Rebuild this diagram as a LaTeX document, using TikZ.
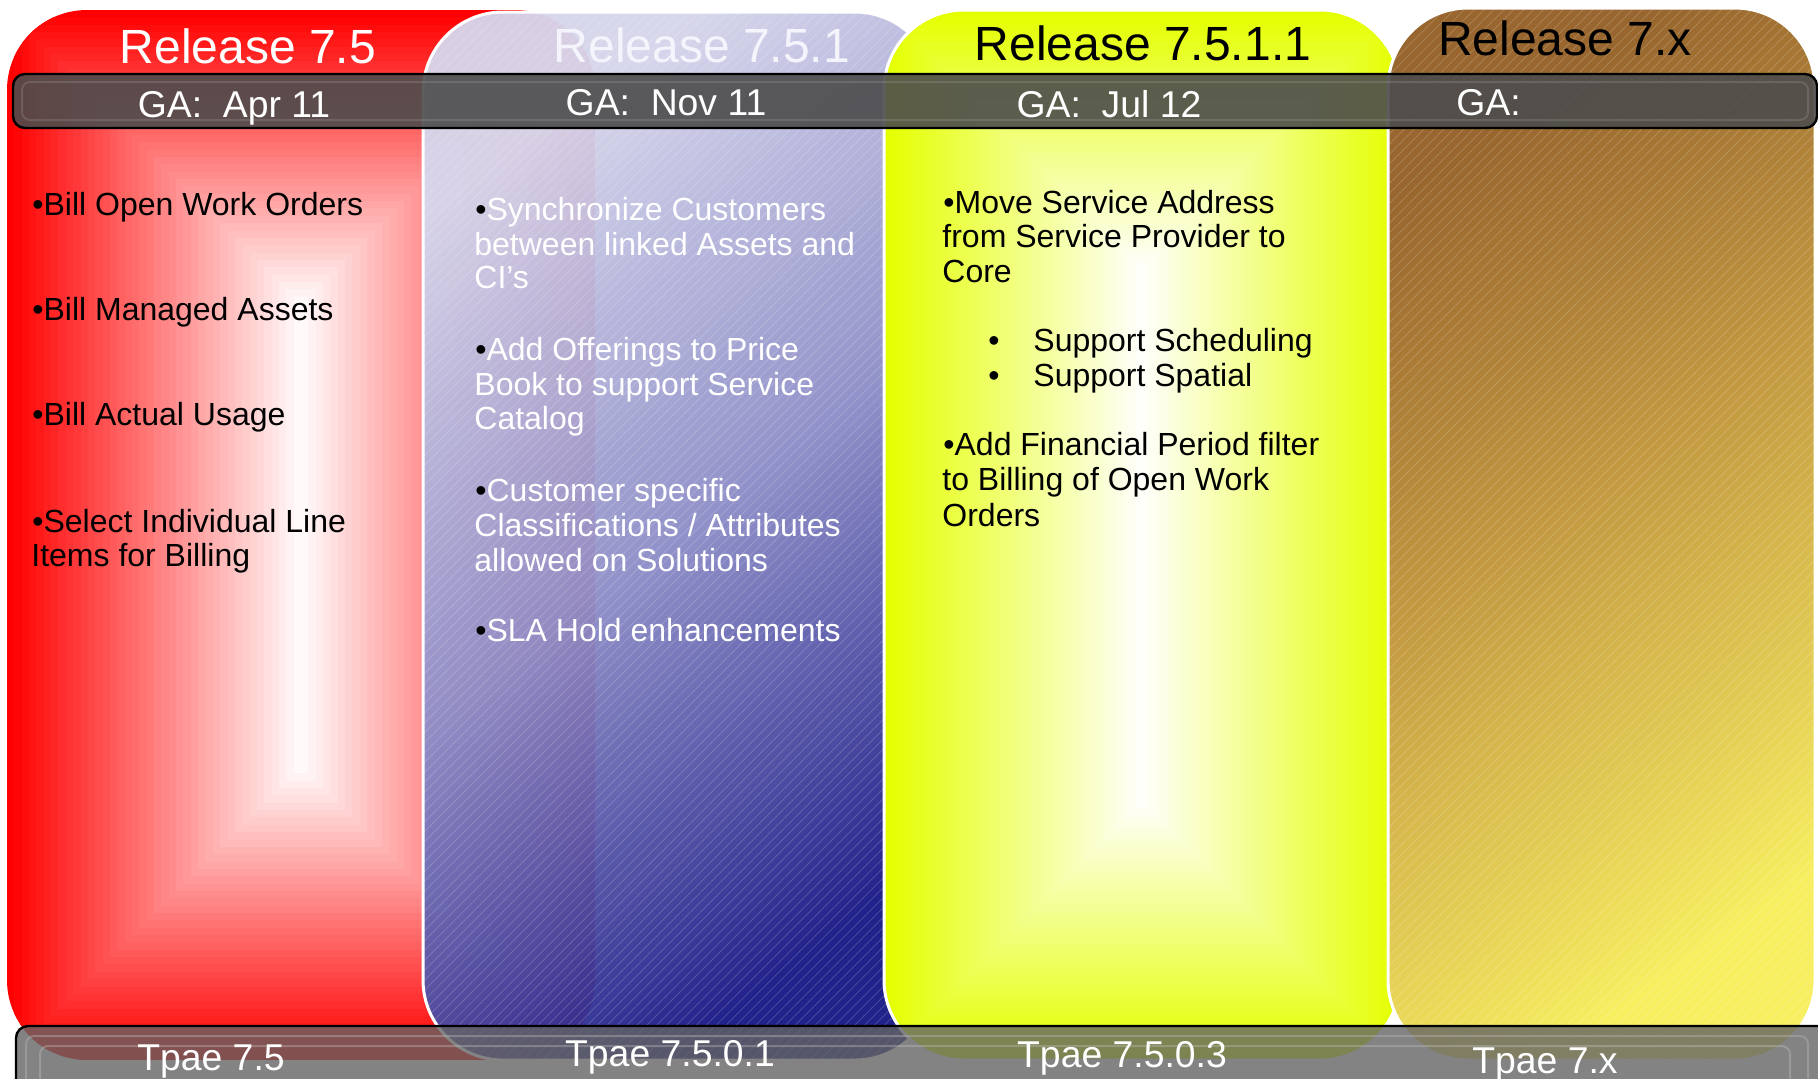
\documentclass[tikz,border=0pt]{standalone}
\usepackage{fontspec}
\setmainfont{Liberation Sans}
\usetikzlibrary{patterns.meta}
\definecolor{redc}{RGB}{255,0,0}
\definecolor{yelc}{RGB}{228,255,0}
\definecolor{bluetop}{RGB}{214,214,236}
\definecolor{bluemid}{RGB}{142,142,200}
\definecolor{bluebot}{RGB}{26,26,135}
\definecolor{bluetitle}{RGB}{244,244,252}
\definecolor{browntop}{RGB}{152,102,46}
\definecolor{brownmid}{RGB}{200,160,68}
\definecolor{brownbot}{RGB}{247,238,96}
\definecolor{gabarc}{RGB}{76,76,76}
\definecolor{tpbarc}{RGB}{100,100,100}
\tikzset{
  paneledge/.style={draw=white, line width=1.5pt, rounded corners=40pt},
  hatch/.style={pattern={Lines[angle=45,distance=3.5pt,line width=0.35pt]}, pattern color=white, opacity=0.2},
  reltitle/.style={font=\fontsize{24}{28}\selectfont, anchor=base, inner sep=0pt},
  barlabel/.style={font=\fontsize{18.67}{22}\selectfont, text=white, anchor=base, inner sep=0pt},
  item/.style={font=\fontsize{16}{19}\selectfont, anchor=base west, inner sep=0pt},
  witem/.style={item, text=white},
  barbox/.style={draw=black, line width=1.2pt, rounded corners=6pt},
  bevel/.style={line width=1pt, rounded corners=4pt}
}
\begin{document}
\begin{tikzpicture}[x=0.5pt, y=-0.5pt]
\useasboundingbox (0,0) rectangle (1818,1078);
\clip (0,0) rectangle (1818,1078);
\fill[white] (0,0) rectangle (1818,1078);

% ---- red panel (rectangular gradient) ----
\begin{scope}
  \clip[rounded corners=40pt] (7,10) rectangle (595,1060);
  \foreach \i in {0,...,39}{
    \pgfmathsetmacro\dd{\i*7.35}
    \pgfmathsetmacro\cc{100-\i*2.5}
    \fill[redc!\cc!white] (7+\dd,10+\dd) rectangle (595-\dd,1060-\dd);
  }
\end{scope}

% ---- blue panel ----
\path[rounded corners=40pt, top color=bluetop, bottom color=bluebot, middle color=bluemid, shading angle=38, opacity=0.96] (423,12) rectangle (935,1060);
\fill[hatch, rounded corners=40pt] (423,12) rectangle (935,1060);
\draw[paneledge] (423,12) rectangle (935,1060);

% ---- yellow panel (rectangular gradient) ----
\begin{scope}
  \clip[rounded corners=40pt] (884,10) rectangle (1400,1060);
  \foreach \i in {0,...,39}{
    \pgfmathsetmacro\dd{\i*6.45}
    \pgfmathsetmacro\cc{100-\i*2.5}
    \fill[yelc!\cc!white] (884+\dd,10+\dd) rectangle (1400-\dd,1060-\dd);
  }
\end{scope}
\draw[paneledge] (884,10) rectangle (1400,1060);

% ---- brown panel ----
\path[rounded corners=40pt, top color=browntop, bottom color=brownbot, middle color=brownmid, shading angle=35] (1388,8) rectangle (1815,1060);
\fill[hatch, rounded corners=40pt] (1388,8) rectangle (1815,1060);
\draw[paneledge] (1388,8) rectangle (1815,1060);

% ---- GA bar ----
\fill[gabarc, opacity=0.9, rounded corners=6pt] (13,74) rectangle (1817,128);
\draw[bevel, draw=gray!70, opacity=0.25] (22,82) rectangle (1808,120);
\draw[barbox] (13,74) rectangle (1817,128);

% ---- Tpae bar ----
\fill[tpbarc, opacity=0.8, rounded corners=6pt] (16,1026) rectangle (1850,1110);
\draw[bevel, draw=gray!60, opacity=0.45] (26,1036) rectangle (1808,1100);
\draw[bevel, draw=gray!45, opacity=0.35] (40,1046) rectangle (1790,1100);
\draw[barbox] (16,1026) rectangle (1850,1110);

% ---- titles ----
\node[reltitle, text=white] (t1) at (248,63) {Release 7.5};
\node[reltitle, text=bluetitle] (t2) at (702,62) {Release 7.5.1};
\node[reltitle, text=black] (t3) at (1143,60) {Release 7.5.1.1};
\node[reltitle, text=black] (t4) at (1565,55) {Release 7.x};

% ---- GA labels ----
\node[barlabel] (g1) at (234,117) {GA:\ \ Apr 11};
\node[barlabel] (g2) at (666,115) {GA:\ \ Nov 11};
\node[barlabel] (g3) at (1109,117) {GA:\ \ Jul 12};
\node[barlabel, anchor=base west] (g4) at (1456,115) {GA:};

% ---- Tpae labels ----
\node[barlabel] (p1) at (211,1070) {Tpae 7.5};
\node[barlabel] (p2) at (670,1066) {Tpae 7.5.0.1};
\node[barlabel] (p3) at (1122,1067) {Tpae 7.5.0.3};
\node[barlabel] (p4) at (1545,1073) {Tpae 7.x};

% ---- red column items ----
\node[item] (r1) at (32,215) {•Bill Open Work Orders};
\node[item] (r2) at (32,320) {•Bill Managed Assets};
\node[item] (r3) at (32,425) {•Bill Actual Usage};
\node[item] (r4) at (32,532) {•Select Individual Line};
\node[item] (r5) at (31,566) {Items for Billing};

% ---- blue column items ----
\node[witem] (b1) at (475,220) {{\color{black}•}Synchronize Customers};
\node[witem] (b2) at (474,255) {between linked Assets and};
\node[witem] (b3) at (474,288) {CI’s};
\node[witem] (b4) at (475,360) {{\color{black}•}Add Offerings to Price};
\node[witem] (b5) at (474,395) {Book to support Service};
\node[witem] (b6) at (474,429) {Catalog};
\node[witem] (b7) at (475,501) {{\color{black}•}Customer specific};
\node[witem] (b8) at (474,536) {Classifications / Attributes};
\node[witem] (b9) at (474,571) {allowed on Solutions};
\node[witem] (b10) at (475,641) {{\color{black}•}SLA Hold enhancements};

% ---- yellow column items ----
\node[item] (y1) at (943,213) {•Move Service Address};
\node[item] (y2) at (942,247) {from Service Provider to};
\node[item] (y3) at (942,282) {Core};
\node[item] (y4) at (988,351) {\makebox[22.5pt][l]{•}Support Scheduling};
\node[item] (y5) at (988,386) {\makebox[22.5pt][l]{•}Support Spatial};
\node[item] (y6) at (943,455) {•Add Financial Period filter};
\node[item] (y7) at (942,490) {to Billing of Open Work};
\node[item] (y8) at (942,526) {Orders};
\end{tikzpicture}
\end{document}
